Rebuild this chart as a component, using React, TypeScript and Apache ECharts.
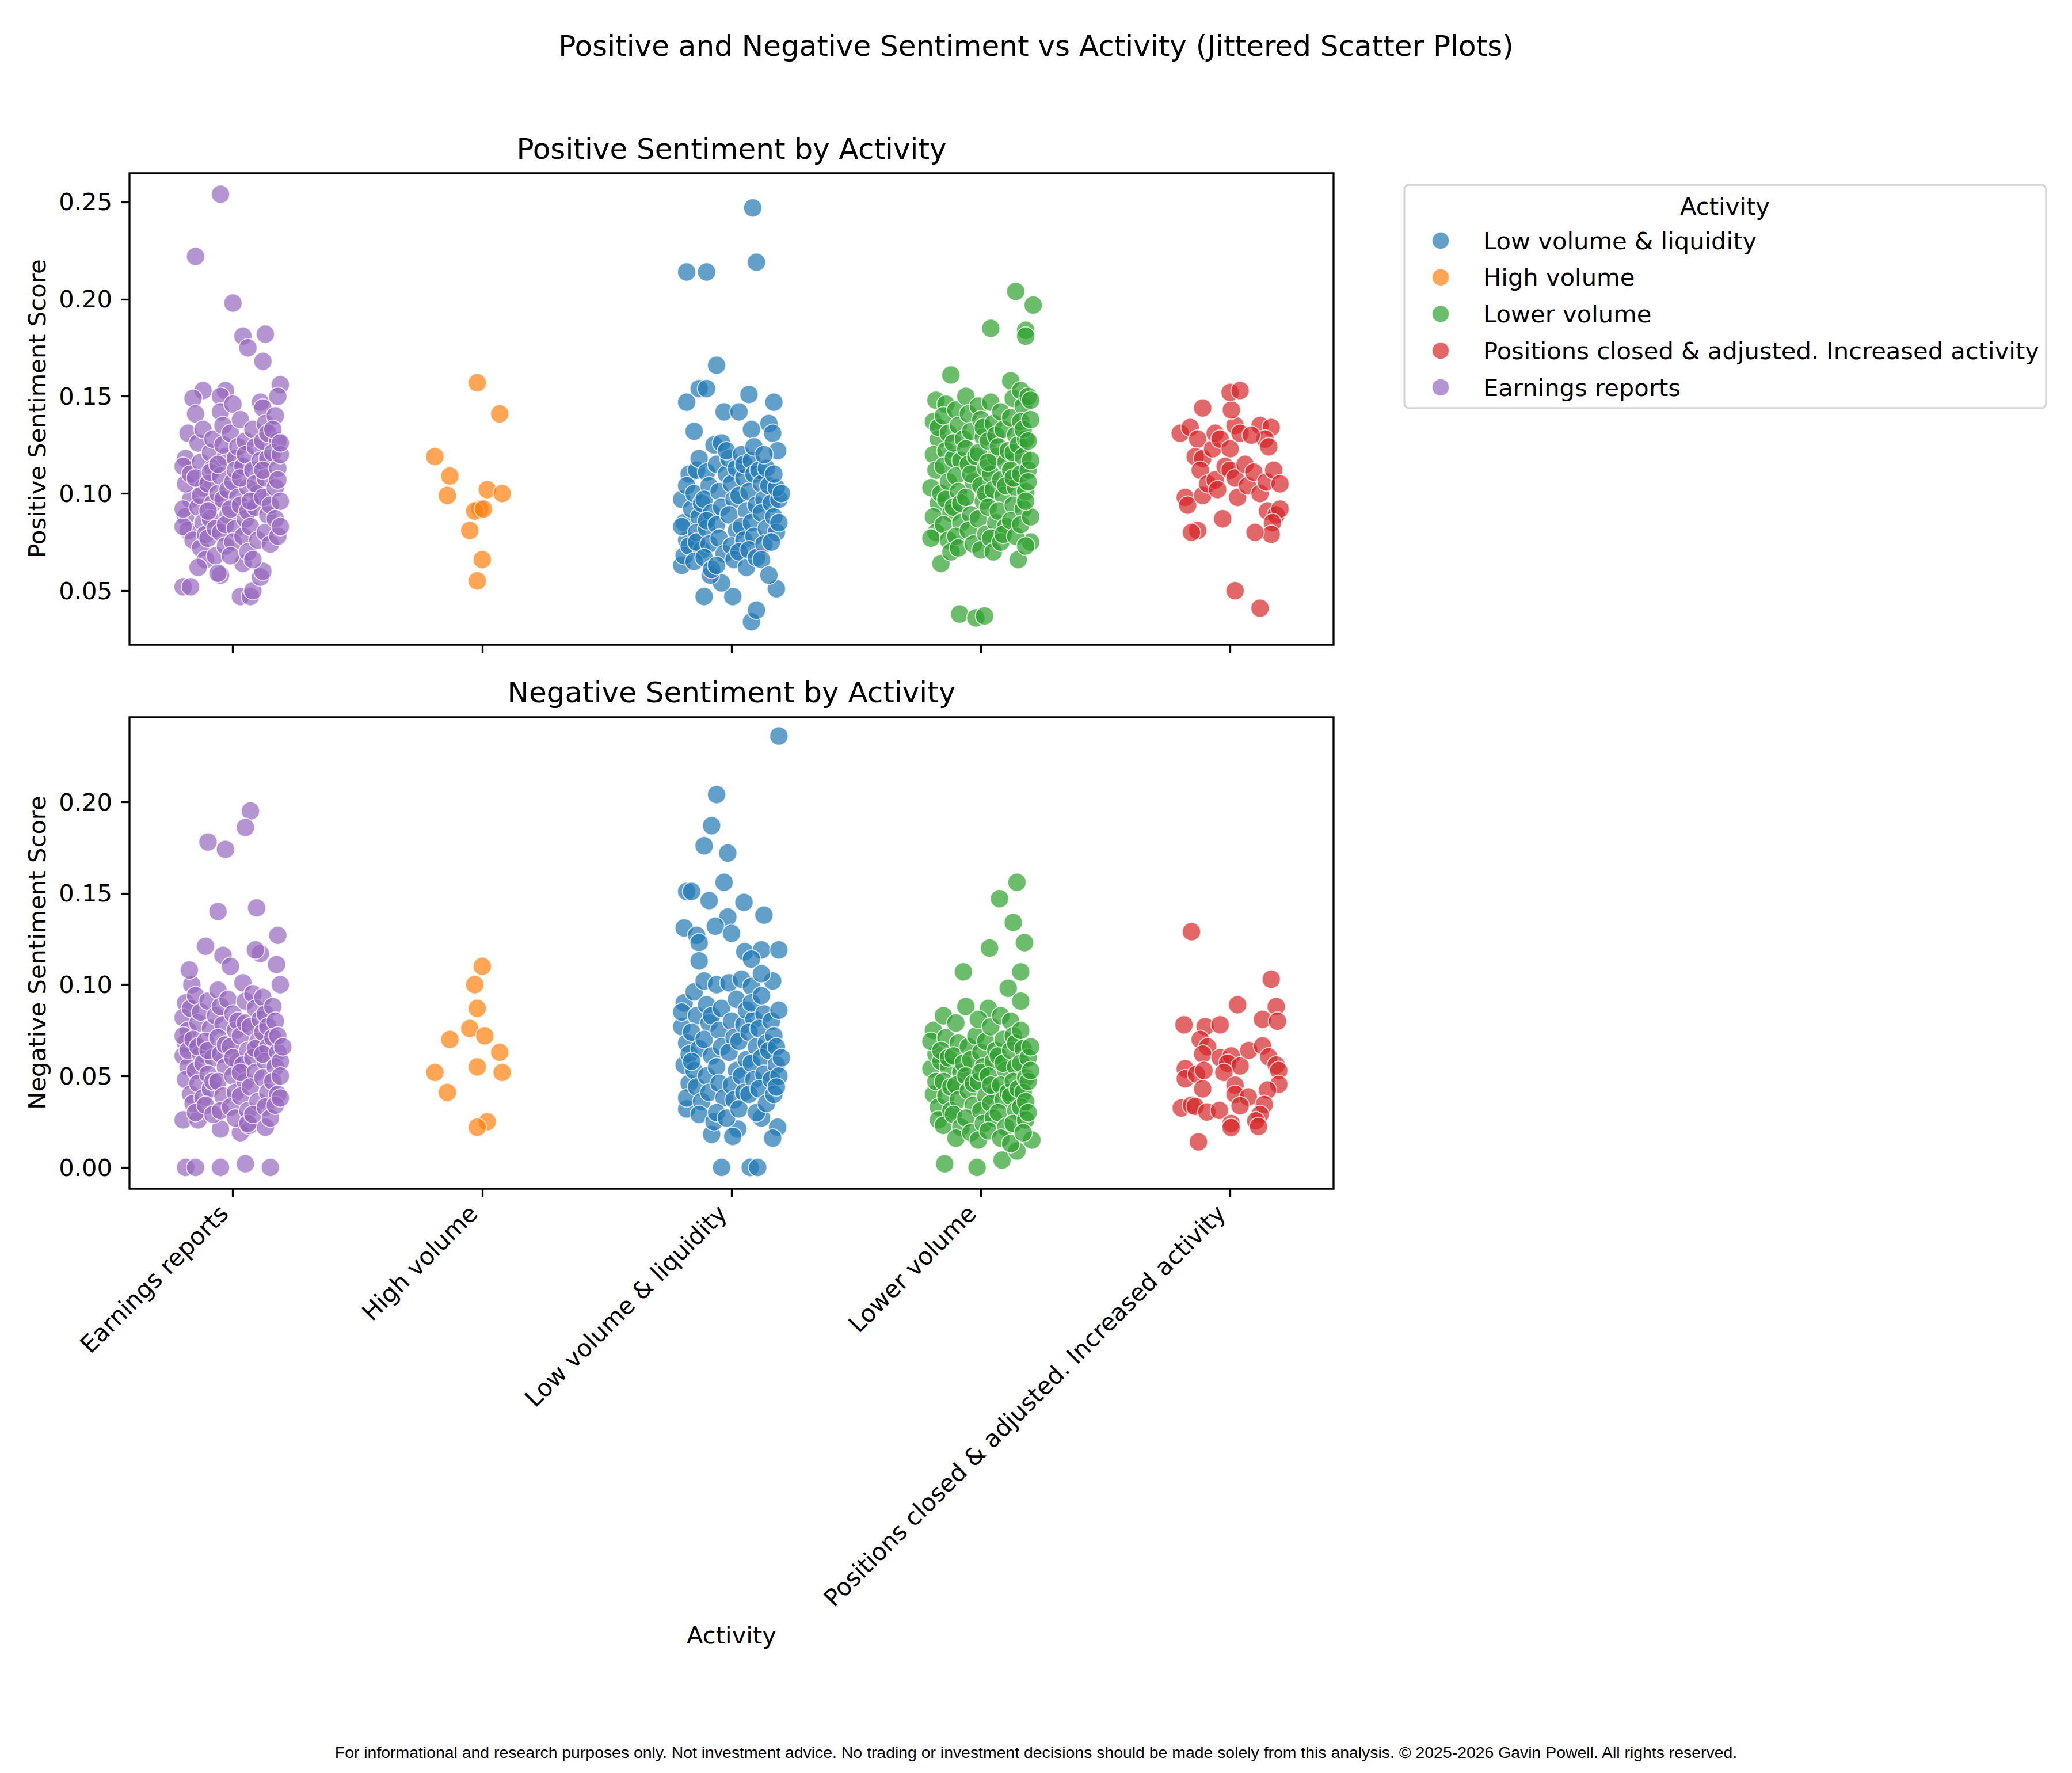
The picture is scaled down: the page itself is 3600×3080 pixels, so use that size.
import * as React from "react";
import * as echarts from "echarts";

// x-axis order (alphabetical, as in the source figure)
const CATEGORIES = [
  "Earnings reports",
  "High volume",
  "Low volume & liquidity",
  "Lower volume",
  "Positions closed & adjusted. Increased activity",
];
// legend order
const LEGEND_ORDER = [
  "Low volume & liquidity",
  "High volume",
  "Lower volume",
  "Positions closed & adjusted. Increased activity",
  "Earnings reports",
];
const COLORS: Record<string, string> = {
  "Low volume & liquidity": "#1f77b4",
  "High volume": "#ff7f0e",
  "Lower volume": "#2ca02c",
  "Positions closed & adjusted. Increased activity": "#d62728",
  "Earnings reports": "#9467bd",
};
const POS_TICKS = [0.05, 0.1, 0.15, 0.2, 0.25];
const NEG_TICKS = [0, 0.05, 0.1, 0.15, 0.2];
const X_TICKS = [0, 1, 2, 3, 4];

// [jitter offset from category, score]
const posEarnings = [
  [-0.05, 0.254], [-0.15, 0.222], [0.0, 0.198], [0.04, 0.181], [0.13, 0.182], [0.06, 0.175], [0.12, 0.168],
  [0.19, 0.156], [-0.12, 0.153], [-0.03, 0.153], [-0.16, 0.149], [-0.05, 0.15], [0.11, 0.147], [0.18, 0.15],
  [-0.2, 0.052], [-0.17, 0.052], [0.03, 0.047], [0.07, 0.047], [0.08, 0.05], [-0.05, 0.058], [-0.06, 0.059],
  [0.11, 0.057], [0.12, 0.06], [0.04, 0.064],
  [-0.19, 0.118], [-0.18, 0.131], [-0.2, 0.114], [-0.17, 0.097], [-0.19, 0.088], [-0.18, 0.081], [-0.2, 0.083],
  [-0.16, 0.076], [-0.19, 0.105], [-0.15, 0.141], [-0.17, 0.11], [-0.2, 0.092],
  [-0.14, 0.126], [-0.13, 0.116], [-0.12, 0.103], [-0.14, 0.093], [-0.12, 0.085], [-0.13, 0.072], [-0.11, 0.066],
  [-0.14, 0.062], [-0.12, 0.133], [-0.13, 0.099], [-0.11, 0.079], [-0.15, 0.108],
  [-0.09, 0.121], [-0.08, 0.113], [-0.1, 0.105], [-0.08, 0.095], [-0.09, 0.087], [-0.1, 0.077], [-0.07, 0.068],
  [-0.08, 0.128], [-0.06, 0.1], [-0.1, 0.091], [-0.07, 0.082], [-0.09, 0.111],
  [-0.05, 0.142], [-0.04, 0.135], [-0.03, 0.119], [-0.05, 0.109], [-0.04, 0.097], [-0.02, 0.089], [-0.05, 0.08],
  [-0.03, 0.073], [-0.04, 0.125], [-0.02, 0.102], [-0.06, 0.115], [-0.03, 0.084],
  [0.0, 0.146], [-0.01, 0.131], [0.01, 0.118], [0.0, 0.106], [0.02, 0.098], [-0.01, 0.092], [0.01, 0.082],
  [0.0, 0.075], [0.02, 0.124], [0.01, 0.112], [-0.01, 0.068],
  [0.03, 0.138], [0.05, 0.127], [0.04, 0.114], [0.06, 0.103], [0.03, 0.094], [0.05, 0.087], [0.04, 0.078],
  [0.06, 0.07], [0.05, 0.12], [0.03, 0.108], [0.06, 0.091],
  [0.08, 0.133], [0.09, 0.124], [0.08, 0.112], [0.1, 0.1], [0.09, 0.093], [0.07, 0.083], [0.1, 0.076],
  [0.08, 0.066], [0.11, 0.117], [0.09, 0.105], [0.07, 0.096],
  [0.12, 0.144], [0.13, 0.136], [0.12, 0.127], [0.14, 0.118], [0.13, 0.108], [0.12, 0.098], [0.14, 0.089],
  [0.13, 0.08], [0.15, 0.074], [0.14, 0.131], [0.12, 0.112], [0.15, 0.094],
  [0.17, 0.14], [0.18, 0.127], [0.16, 0.121], [0.18, 0.113], [0.17, 0.103], [0.19, 0.096], [0.17, 0.087],
  [0.18, 0.078], [0.19, 0.083], [0.16, 0.133], [0.18, 0.107], [0.19, 0.12], [0.19, 0.126],
];
const posHighVolume = [
  [-0.19, 0.119], [-0.02, 0.157], [0.07, 0.141], [-0.13, 0.109], [-0.14, 0.099], [0.02, 0.102], [0.08, 0.1],
  [-0.01, 0.092], [-0.03, 0.091], [0.005, 0.092], [-0.05, 0.081], [0.0, 0.066], [-0.02, 0.055],
];
const posLowVolLiq = [
  [0.085, 0.247], [0.1, 0.219], [-0.18, 0.214], [-0.1, 0.214], [-0.06, 0.166], [-0.18, 0.147], [-0.13, 0.154],
  [-0.1, 0.154], [0.07, 0.151], [0.17, 0.147], [-0.03, 0.142], [0.03, 0.142], [-0.15, 0.132], [0.15, 0.136],
  [0.08, 0.133], [0.165, 0.131], [0.185, 0.122], [0.08, 0.034], [0.1, 0.04], [0.18, 0.051], [-0.11, 0.047],
  [0.005, 0.047], [-0.2, 0.063], [-0.04, 0.054], [-0.085, 0.058],
  [-0.19, 0.085], [-0.2, 0.097], [-0.18, 0.076], [-0.19, 0.068], [-0.17, 0.11], [-0.18, 0.104], [-0.2, 0.083],
  [-0.17, 0.073], [-0.16, 0.092],
  [-0.14, 0.112], [-0.15, 0.1], [-0.13, 0.088], [-0.14, 0.08], [-0.12, 0.071], [-0.15, 0.065], [-0.13, 0.118],
  [-0.12, 0.095], [-0.14, 0.075],
  [-0.1, 0.111], [-0.09, 0.104], [-0.11, 0.097], [-0.08, 0.09], [-0.1, 0.082], [-0.09, 0.074], [-0.11, 0.067],
  [-0.08, 0.061], [-0.07, 0.125], [-0.1, 0.086],
  [-0.06, 0.115], [-0.05, 0.101], [-0.04, 0.093], [-0.06, 0.084], [-0.05, 0.077], [-0.03, 0.069], [-0.06, 0.063],
  [-0.04, 0.126], [-0.02, 0.11],
  [-0.01, 0.118], [0.0, 0.105], [0.01, 0.097], [-0.01, 0.089], [0.02, 0.081], [0.0, 0.073], [0.01, 0.066],
  [-0.02, 0.122], [0.02, 0.113],
  [0.04, 0.12], [0.05, 0.108], [0.03, 0.099], [0.06, 0.091], [0.04, 0.083], [0.05, 0.076], [0.03, 0.07],
  [0.06, 0.062], [0.05, 0.115],
  [0.08, 0.117], [0.09, 0.11], [0.07, 0.101], [0.1, 0.094], [0.08, 0.085], [0.09, 0.078], [0.07, 0.071],
  [0.1, 0.067], [0.09, 0.124], [0.11, 0.112],
  [0.12, 0.105], [0.13, 0.097], [0.12, 0.09], [0.14, 0.082], [0.13, 0.074], [0.12, 0.066], [0.14, 0.113],
  [0.13, 0.12], [0.15, 0.104],
  [0.16, 0.095], [0.17, 0.088], [0.18, 0.08], [0.16, 0.075], [0.19, 0.097], [0.18, 0.103], [0.17, 0.11],
  [0.19, 0.085], [0.2, 0.1], [0.15, 0.058],
];
const posLowerVolume = [
  [0.14, 0.204], [0.21, 0.197], [0.18, 0.184], [0.18, 0.181], [0.04, 0.185], [-0.12, 0.161], [-0.085, 0.038],
  [-0.02, 0.036], [0.015, 0.037], [-0.16, 0.064], [0.15, 0.066], [0.2, 0.075],
  [-0.18, 0.148], [-0.19, 0.137], [-0.17, 0.128], [-0.19, 0.12], [-0.18, 0.112], [-0.2, 0.103], [-0.17, 0.095],
  [-0.19, 0.088], [-0.18, 0.08], [-0.2, 0.077], [-0.17, 0.134], [-0.16, 0.1],
  [-0.14, 0.146], [-0.15, 0.14], [-0.13, 0.131], [-0.14, 0.122], [-0.15, 0.114], [-0.13, 0.106], [-0.14, 0.097],
  [-0.12, 0.09], [-0.15, 0.084], [-0.13, 0.076], [-0.12, 0.07], [-0.11, 0.118],
  [-0.1, 0.143], [-0.09, 0.135], [-0.11, 0.126], [-0.08, 0.117], [-0.1, 0.109], [-0.09, 0.101], [-0.11, 0.093],
  [-0.08, 0.085], [-0.1, 0.078], [-0.09, 0.072], [-0.07, 0.128], [-0.08, 0.095],
  [-0.06, 0.15], [-0.05, 0.141], [-0.04, 0.132], [-0.06, 0.123], [-0.05, 0.115], [-0.03, 0.106], [-0.06, 0.098],
  [-0.04, 0.089], [-0.05, 0.081], [-0.03, 0.074], [-0.02, 0.119], [-0.04, 0.11],
  [-0.01, 0.145], [0.0, 0.138], [0.01, 0.129], [-0.01, 0.121], [0.02, 0.113], [0.0, 0.104], [0.01, 0.096],
  [-0.01, 0.087], [0.02, 0.079], [0.0, 0.071], [0.01, 0.134], [0.02, 0.1],
  [0.04, 0.147], [0.05, 0.136], [0.03, 0.127], [0.06, 0.119], [0.04, 0.11], [0.05, 0.102], [0.03, 0.093],
  [0.06, 0.085], [0.04, 0.077], [0.05, 0.07], [0.06, 0.13], [0.03, 0.116],
  [0.08, 0.142], [0.09, 0.133], [0.07, 0.124], [0.1, 0.116], [0.08, 0.107], [0.09, 0.099], [0.07, 0.091],
  [0.1, 0.083], [0.08, 0.075], [0.09, 0.079], [0.11, 0.122], [0.1, 0.104],
  [0.12, 0.158], [0.13, 0.149], [0.12, 0.139], [0.14, 0.13], [0.13, 0.121], [0.12, 0.112], [0.14, 0.103],
  [0.13, 0.094], [0.12, 0.086], [0.14, 0.078], [0.15, 0.125], [0.13, 0.108],
  [0.16, 0.153], [0.17, 0.145], [0.16, 0.137], [0.18, 0.128], [0.17, 0.119], [0.16, 0.11], [0.18, 0.101],
  [0.17, 0.092], [0.16, 0.084], [0.18, 0.073], [0.19, 0.112], [0.17, 0.133],
  [0.19, 0.15], [0.2, 0.138], [0.19, 0.127], [0.2, 0.117], [0.19, 0.106], [0.2, 0.088], [0.18, 0.096], [0.2, 0.148],
];
const posPositions = [
  [-0.11, 0.144], [-0.2, 0.131], [-0.16, 0.134], [-0.13, 0.128], [-0.14, 0.119], [-0.11, 0.118], [-0.07, 0.123],
  [-0.06, 0.131], [-0.04, 0.128], [0.0, 0.123], [0.02, 0.135], [0.04, 0.131], [0.005, 0.143], [0.0, 0.152],
  [0.04, 0.153], [0.12, 0.135], [0.165, 0.134], [0.14, 0.128], [0.155, 0.124], [0.085, 0.13], [-0.12, 0.112],
  [-0.18, 0.098], [-0.17, 0.094], [-0.11, 0.099], [-0.09, 0.105], [-0.06, 0.107], [-0.05, 0.102], [-0.02, 0.114],
  [0.0, 0.112], [0.02, 0.108], [0.03, 0.098], [0.06, 0.115], [0.07, 0.104], [0.095, 0.111], [0.12, 0.1],
  [0.145, 0.106], [0.175, 0.112], [0.2, 0.105], [0.15, 0.091], [0.185, 0.089], [0.2, 0.092], [0.17, 0.085],
  [0.165, 0.079], [0.1, 0.08], [-0.03, 0.087], [-0.13, 0.081], [-0.155, 0.08], [0.02, 0.05], [0.12, 0.041],
];

const negEarnings = [
  [0.07, 0.195], [0.05, 0.186], [-0.1, 0.178], [-0.03, 0.174], [-0.06, 0.14], [0.095, 0.142], [0.18, 0.127],
  [-0.11, 0.121], [-0.04, 0.116], [0.11, 0.117], [0.09, 0.119], [0.175, 0.111], [0.19, 0.1], [-0.165, 0.1],
  [-0.175, 0.108], [-0.19, 0.0], [-0.15, 0.0], [-0.05, 0.0], [0.05, 0.002], [0.15, 0.0], [-0.2, 0.026],
  [-0.14, 0.026], [-0.05, 0.021], [0.03, 0.019], [0.065, 0.023], [0.13, 0.022],
  [-0.19, 0.09], [-0.2, 0.082], [-0.18, 0.075], [-0.19, 0.068], [-0.2, 0.061], [-0.18, 0.055], [-0.19, 0.048],
  [-0.17, 0.04], [-0.2, 0.072], [-0.18, 0.064], [-0.16, 0.035], [-0.17, 0.087],
  [-0.15, 0.094], [-0.14, 0.079], [-0.16, 0.07], [-0.13, 0.062], [-0.15, 0.053], [-0.14, 0.046], [-0.12, 0.038],
  [-0.15, 0.03], [-0.13, 0.085], [-0.14, 0.066], [-0.12, 0.057],
  [-0.1, 0.091], [-0.09, 0.076], [-0.11, 0.069], [-0.08, 0.06], [-0.1, 0.051], [-0.09, 0.043], [-0.11, 0.034],
  [-0.08, 0.029], [-0.07, 0.083], [-0.1, 0.064], [-0.08, 0.047],
  [-0.06, 0.097], [-0.05, 0.088], [-0.04, 0.078], [-0.06, 0.071], [-0.05, 0.062], [-0.03, 0.055], [-0.06, 0.047],
  [-0.04, 0.039], [-0.05, 0.031], [-0.02, 0.092], [-0.03, 0.067],
  [-0.01, 0.11], [0.0, 0.084], [0.01, 0.075], [-0.01, 0.066], [0.02, 0.058], [0.0, 0.05], [0.01, 0.041],
  [-0.01, 0.033], [0.02, 0.08], [0.0, 0.06], [0.01, 0.027],
  [0.04, 0.101], [0.05, 0.091], [0.03, 0.072], [0.06, 0.064], [0.04, 0.056], [0.05, 0.047], [0.03, 0.039],
  [0.06, 0.031], [0.05, 0.079], [0.03, 0.052], [0.06, 0.024],
  [0.08, 0.095], [0.09, 0.087], [0.07, 0.077], [0.1, 0.069], [0.08, 0.06], [0.09, 0.052], [0.07, 0.044],
  [0.1, 0.036], [0.08, 0.029], [0.09, 0.065], [0.11, 0.081],
  [0.12, 0.093], [0.13, 0.084], [0.12, 0.074], [0.14, 0.066], [0.13, 0.058], [0.12, 0.049], [0.14, 0.041],
  [0.13, 0.033], [0.15, 0.027], [0.14, 0.077], [0.12, 0.062],
  [0.16, 0.088], [0.17, 0.08], [0.16, 0.071], [0.18, 0.063], [0.17, 0.055], [0.16, 0.047], [0.18, 0.04],
  [0.17, 0.034], [0.19, 0.058], [0.18, 0.072], [0.19, 0.038], [0.2, 0.066], [0.19, 0.05],
];
const negHighVolume = [
  [0.0, 0.11], [-0.03, 0.1], [-0.02, 0.087], [-0.05, 0.076], [-0.13, 0.07], [0.01, 0.072], [0.07, 0.063],
  [-0.19, 0.052], [-0.02, 0.055], [0.08, 0.052], [-0.14, 0.041], [0.02, 0.025], [-0.02, 0.022],
];
const negLowVolLiq = [
  [0.19, 0.236], [-0.06, 0.204], [-0.08, 0.187], [-0.11, 0.176], [-0.015, 0.172], [-0.18, 0.151], [-0.16, 0.151],
  [-0.03, 0.156], [-0.09, 0.146], [0.05, 0.145], [0.13, 0.138], [-0.015, 0.137], [-0.065, 0.132], [-0.19, 0.131],
  [-0.14, 0.127], [-0.13, 0.123], [0.0, 0.128], [-0.04, 0.0], [0.075, 0.0], [0.105, 0.0], [0.185, 0.022],
  [0.165, 0.016], [-0.08, 0.018], [0.025, 0.021], [0.005, 0.017], [0.12, 0.027], [-0.18, 0.032], [0.053, 0.118],
  [0.12, 0.119], [0.19, 0.119], [0.08, 0.114], [0.165, 0.102], [-0.13, 0.113],
  [-0.19, 0.09], [-0.2, 0.077], [-0.18, 0.068], [-0.19, 0.056], [-0.17, 0.046], [-0.18, 0.038], [-0.2, 0.085],
  [-0.17, 0.062],
  [-0.15, 0.096], [-0.14, 0.083], [-0.16, 0.074], [-0.13, 0.065], [-0.15, 0.053], [-0.14, 0.044], [-0.12, 0.036],
  [-0.13, 0.029], [-0.16, 0.058],
  [-0.11, 0.102], [-0.1, 0.089], [-0.09, 0.079], [-0.11, 0.07], [-0.08, 0.061], [-0.1, 0.05], [-0.09, 0.041],
  [-0.07, 0.025], [-0.08, 0.083],
  [-0.06, 0.1], [-0.05, 0.075], [-0.04, 0.066], [-0.06, 0.055], [-0.05, 0.046], [-0.03, 0.038], [-0.06, 0.03],
  [-0.04, 0.087],
  [-0.01, 0.101], [0.0, 0.08], [0.01, 0.071], [-0.01, 0.063], [0.02, 0.053], [0.0, 0.045], [0.01, 0.037],
  [-0.02, 0.027], [0.02, 0.092],
  [0.04, 0.103], [0.05, 0.078], [0.03, 0.069], [0.06, 0.059], [0.04, 0.05], [0.05, 0.041], [0.03, 0.032],
  [0.06, 0.086],
  [0.08, 0.099], [0.09, 0.081], [0.07, 0.074], [0.1, 0.066], [0.08, 0.057], [0.09, 0.048], [0.07, 0.04],
  [0.1, 0.03], [0.08, 0.09],
  [0.12, 0.106], [0.13, 0.084], [0.11, 0.076], [0.14, 0.068], [0.12, 0.06], [0.13, 0.051], [0.11, 0.043],
  [0.14, 0.035], [0.12, 0.094],
  [0.16, 0.08], [0.17, 0.072], [0.15, 0.064], [0.18, 0.056], [0.16, 0.048], [0.17, 0.04], [0.19, 0.086],
  [0.18, 0.066], [0.19, 0.05], [0.2, 0.06], [0.18, 0.044],
];
const negLowerVolume = [
  [0.145, 0.156], [0.075, 0.147], [0.13, 0.134], [0.175, 0.123], [0.035, 0.12], [-0.07, 0.107], [0.16, 0.107],
  [0.11, 0.098], [0.16, 0.091], [0.03, 0.087], [-0.145, 0.002], [-0.015, 0.0], [0.085, 0.004], [0.145, 0.009],
  [0.205, 0.015],
  [-0.19, 0.075], [-0.2, 0.054], [-0.18, 0.062], [-0.19, 0.04], [-0.17, 0.033], [-0.18, 0.047], [-0.2, 0.069],
  [-0.17, 0.026], [-0.16, 0.058],
  [-0.15, 0.083], [-0.14, 0.071], [-0.16, 0.064], [-0.13, 0.055], [-0.15, 0.047], [-0.14, 0.039], [-0.12, 0.031],
  [-0.15, 0.023], [-0.13, 0.06], [-0.12, 0.044],
  [-0.1, 0.079], [-0.09, 0.068], [-0.11, 0.061], [-0.08, 0.052], [-0.1, 0.045], [-0.09, 0.037], [-0.11, 0.029],
  [-0.08, 0.022], [-0.07, 0.057], [-0.1, 0.016],
  [-0.06, 0.088], [-0.05, 0.066], [-0.04, 0.059], [-0.06, 0.05], [-0.05, 0.042], [-0.03, 0.034], [-0.06, 0.027],
  [-0.04, 0.019], [-0.02, 0.072], [-0.03, 0.046],
  [-0.01, 0.081], [0.0, 0.063], [0.01, 0.055], [-0.01, 0.047], [0.02, 0.039], [0.0, 0.031], [0.01, 0.024],
  [-0.01, 0.015], [0.02, 0.069], [0.0, 0.052],
  [0.04, 0.077], [0.05, 0.058], [0.03, 0.05], [0.06, 0.042], [0.04, 0.035], [0.05, 0.027], [0.03, 0.02],
  [0.06, 0.064], [0.04, 0.045],
  [0.08, 0.083], [0.09, 0.07], [0.07, 0.061], [0.1, 0.053], [0.08, 0.045], [0.09, 0.037], [0.07, 0.03],
  [0.1, 0.022], [0.08, 0.016], [0.09, 0.057], [0.11, 0.041],
  [0.12, 0.08], [0.13, 0.072], [0.12, 0.064], [0.14, 0.055], [0.13, 0.047], [0.12, 0.039], [0.14, 0.031],
  [0.13, 0.024], [0.12, 0.013], [0.14, 0.068], [0.15, 0.043],
  [0.16, 0.075], [0.17, 0.065], [0.16, 0.057], [0.18, 0.049], [0.17, 0.041], [0.16, 0.033], [0.18, 0.026],
  [0.17, 0.019], [0.19, 0.06], [0.18, 0.036], [0.19, 0.047], [0.2, 0.066], [0.19, 0.03], [0.2, 0.053],
];
const negPositions = [
  [-0.155, 0.129], [0.165, 0.103], [0.03, 0.089], [0.185, 0.088], [0.13, 0.081], [0.19, 0.08], [-0.185, 0.078],
  [-0.1, 0.077], [-0.04, 0.078], [-0.12, 0.07], [-0.09, 0.066], [-0.11, 0.062], [-0.04, 0.06], [0.005, 0.061],
  [-0.01, 0.057], [0.04, 0.0555], [0.075, 0.064], [0.13, 0.0665], [0.155, 0.0605], [0.185, 0.056], [0.195, 0.053],
  [-0.18, 0.054], [-0.18, 0.0485], [-0.135, 0.051], [-0.105, 0.053], [-0.025, 0.052], [0.02, 0.045], [-0.11, 0.043],
  [0.195, 0.0454], [0.15, 0.0423], [0.02, 0.04], [0.073, 0.0385], [0.04, 0.0337], [0.137, 0.0344], [-0.196, 0.0325],
  [-0.155, 0.034], [-0.14, 0.0334], [-0.093, 0.0303], [-0.043, 0.0312], [0.12, 0.029], [0.103, 0.0255],
  [0.114, 0.0224], [0.004, 0.024], [0.004, 0.0218], [-0.127, 0.014],
];

const POS_DATA = [posEarnings, posHighVolume, posLowVolLiq, posLowerVolume, posPositions];
const NEG_DATA = [negEarnings, negHighVolume, negLowVolLiq, negLowerVolume, negPositions];

const FONT = "DejaVu Sans";
const TICK_PX = 41.67;
const SPINE = 3.3;

function xAxis(gridIndex: number, showLabels: boolean) {
  return {
    type: "value",
    gridIndex,
    min: -0.415,
    max: 4.415,
    axisLine: { show: false, onZero: false },
    splitLine: { show: false },
    axisTick: { show: true, customValues: X_TICKS, length: 14.6, lineStyle: { color: "#000", width: SPINE } },
    axisLabel: {
      show: showLabels,
      customValues: X_TICKS,
      formatter: (v: number) => CATEGORIES[Math.round(v)] ?? "",
      rotate: 45,
      margin: 20,
      align: "right",
      padding: [0, 22, 0, 0],
      fontSize: TICK_PX,
      fontFamily: FONT,
      color: "#000",
    },
  };
}

function yAxis(gridIndex: number, min: number, max: number, ticks: number[]) {
  return {
    type: "value",
    gridIndex,
    min,
    max,
    axisLine: { show: false, onZero: false },
    splitLine: { show: false },
    axisTick: { show: true, customValues: ticks, length: 14.6, lineStyle: { color: "#000", width: SPINE } },
    axisLabel: {
      customValues: ticks,
      formatter: (v: number) => v.toFixed(2),
      margin: 30,
      fontSize: TICK_PX,
      fontFamily: FONT,
      color: "#000",
    },
  };
}

function scatter(panel: number, i: number, pts: number[][]) {
  const name = CATEGORIES[i];
  return {
    type: "scatter",
    name,
    xAxisIndex: panel,
    yAxisIndex: panel,
    symbolSize: 32,
    itemStyle: { color: COLORS[name], opacity: 0.7, borderColor: "#fff", borderWidth: 2 },
    data: pts.map(([dx, y]) => [i + dx, y]),
  };
}

function text(x: number, y: number, t: string, size: number, extra: any = {}) {
  return {
    type: "text",
    x,
    y,
    z: 100,
    ...extra,
    style: {
      text: t,
      fontSize: size,
      fontFamily: extra.fontFamily ?? FONT,
      fill: "#000",
      textAlign: "center",
      textVerticalAlign: "middle",
    },
  };
}

export default function App() {
  const ref = React.useRef<HTMLDivElement | null>(null);

  React.useEffect(() => {
    if (!ref.current) return;
    const chart = echarts.init(ref.current, undefined, { renderer: "svg" });
    const gridBox = { left: 225, width: 2092, height: 819, show: true, borderColor: "#000", borderWidth: SPINE };

    const option: any = {
      animation: false,
      backgroundColor: "#fff",
      grid: [
        { ...gridBox, top: 301 },
        { ...gridBox, top: 1246 },
      ],
      xAxis: [xAxis(0, false), xAxis(1, true)],
      yAxis: [yAxis(0, 0.0222, 0.2648, POS_TICKS), yAxis(1, -0.01165, 0.2463, NEG_TICKS)],
      legend: {
        data: LEGEND_ORDER,
        orient: "vertical",
        left: 2440,
        top: 321,
        padding: [76, 12, 15, 47],
        itemWidth: 30,
        itemHeight: 30,
        itemGap: 21.75,
        icon: "circle",
        backgroundColor: "#fff",
        borderColor: "#d6d6d6",
        borderWidth: SPINE,
        borderRadius: 8,
        z: 5,
        textStyle: { fontSize: TICK_PX, lineHeight: 42, fontFamily: FONT, color: "#000", padding: [0, 0, 0, 54] },
      },
      graphic: [
        text(1800, 80, "Positive and Negative Sentiment vs Activity (Jittered Scatter Plots)", 50),
        text(1271, 259, "Positive Sentiment by Activity", 50),
        text(1271, 1203, "Negative Sentiment by Activity", 50),
        text(1271, 2840, "Activity", TICK_PX),
        text(64, 710, "Positive Sentiment Score", TICK_PX, { rotation: Math.PI / 2 }),
        text(64, 1655, "Negative Sentiment Score", TICK_PX, { rotation: Math.PI / 2 }),
        text(2997, 358, "Activity", TICK_PX),
        text(
          1800,
          3044,
          "For informational and research purposes only. Not investment advice. No trading or investment decisions should be made solely from this analysis. © 2025-2026 Gavin Powell. All rights reserved.",
          28.4,
          { fontFamily: "Liberation Sans" }
        ),
      ],
      series: [
        ...POS_DATA.map((pts, i) => scatter(0, i, pts)),
        ...NEG_DATA.map((pts, i) => scatter(1, i, pts)),
      ],
    };
    chart.setOption(option);
    return () => chart.dispose();
  }, []);

  return <div ref={ref} style={{ position: "absolute", left: 0, top: 0, width: 3600, height: 3080 }} />;
}
